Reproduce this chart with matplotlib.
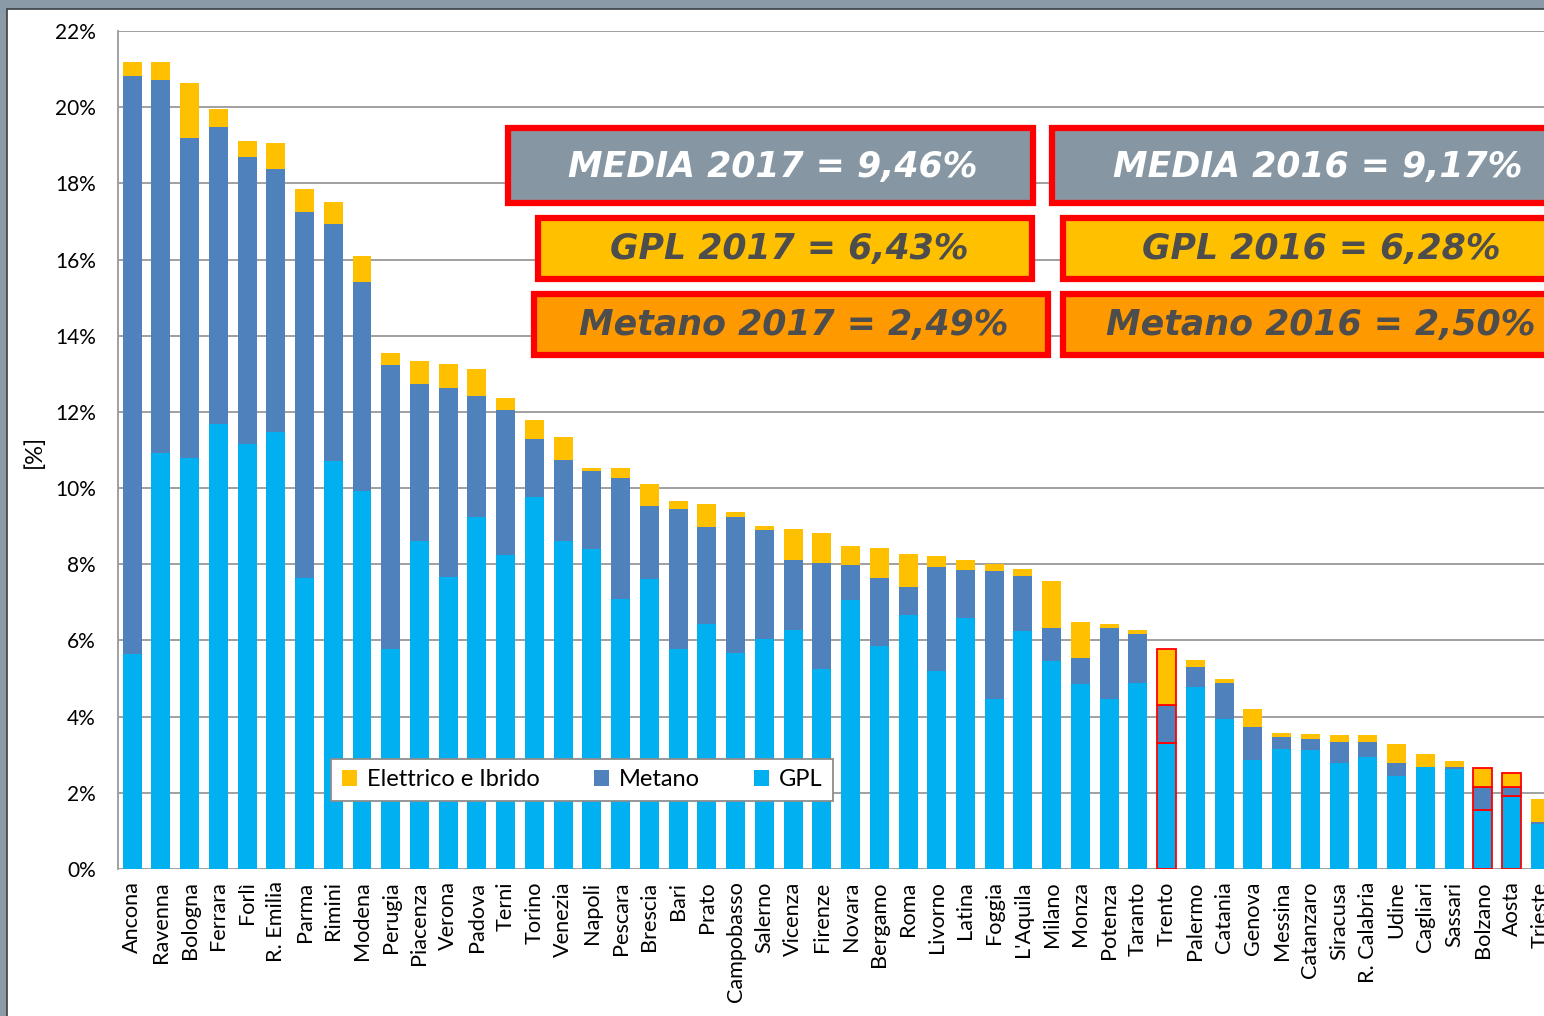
import matplotlib
matplotlib.use("Agg")
import matplotlib.pyplot as plt
from matplotlib.patches import Rectangle, Patch
import numpy as np

cities = ["Ancona", "Ravenna", "Bologna", "Ferrara", "Forlì", "R. Emilia", "Parma", "Rimini",
          "Modena", "Perugia", "Piacenza", "Verona", "Padova", "Terni", "Torino", "Venezia",
          "Napoli", "Pescara", "Brescia", "Bari", "Prato", "Campobasso", "Salerno", "Vicenza",
          "Firenze", "Novara", "Bergamo", "Roma", "Livorno", "Latina", "Foggia", "L'Aquila",
          "Milano", "Monza", "Potenza", "Taranto", "Trento", "Palermo", "Catania", "Genova",
          "Messina", "Catanzaro", "Siracusa", "R. Calabria", "Udine", "Cagliari", "Sassari",
          "Bolzano", "Aosta", "Trieste"]

# GPL share (%)
gpl = [5.64, 10.93, 10.79, 11.68, 11.15, 11.47, 7.63, 10.72, 9.92, 5.78,
       8.61, 7.66, 9.24, 8.24, 9.76, 8.61, 8.39, 7.08, 7.61, 5.77,
       6.42, 5.68, 6.03, 6.27, 5.24, 7.06, 5.86, 6.68, 5.21, 6.59,
       4.46, 6.25, 5.46, 4.85, 4.46, 4.88, 3.31, 4.77, 3.93, 2.85,
       3.14, 3.12, 2.79, 2.93, 2.45, 2.67, 2.63, 1.56, 1.92, 1.17]
# cumulative GPL + Metano (%)
gpl_metano = [20.82, 20.71, 19.20, 19.47, 18.70, 18.39, 17.26, 16.94, 15.41, 13.23,
              12.72, 12.63, 12.43, 12.05, 11.28, 10.74, 10.45, 10.27, 9.54, 9.46,
              8.97, 9.23, 8.89, 8.11, 8.04, 7.98, 7.65, 7.40, 7.93, 7.85,
              7.82, 7.68, 6.33, 5.54, 6.34, 6.18, 4.30, 5.30, 4.88, 3.73,
              3.47, 3.41, 3.33, 3.34, 2.78, 2.69, 2.68, 2.15, 2.15, 1.23]
# total (%)
total = [21.19, 21.19, 20.63, 19.95, 19.10, 19.07, 17.85, 17.50, 16.08, 13.55,
         13.33, 13.27, 13.12, 12.37, 11.79, 11.34, 10.54, 10.52, 10.12, 9.65,
         9.58, 9.36, 9.00, 8.93, 8.81, 8.48, 8.44, 8.27, 8.23, 8.11,
         8.01, 7.87, 7.56, 6.48, 6.43, 6.27, 5.78, 5.48, 5.00, 4.19,
         3.57, 3.54, 3.53, 3.51, 3.29, 3.02, 2.84, 2.65, 2.51, 1.84]

metano = list(np.array(gpl_metano) - np.array(gpl))
elettrico = list(np.array(total) - np.array(gpl_metano))

highlight = ["Trento", "Bolzano", "Aosta"]

yticks = [0, 2, 4, 6, 8, 10, 12, 14, 16, 18, 20, 22]
ytick_labels = [f"{v}%" for v in yticks]

boxes_2017 = ["MEDIA 2017 = 9,46%", "GPL 2017 = 6,43%", "Metano 2017 = 2,49%"]
boxes_2016 = ["MEDIA 2016 = 9,17%", "GPL 2016 = 6,28%", "Metano 2016 = 2,50%"]

C_GPL = "#00B0F0"
C_MET = "#4F81BD"
C_ELE = "#FFC000"
C_GRAY = "#8697A3"
C_ORANGE = "#FF9900"
C_RED = "#FF0000"

W, H = 1544, 1016
fig = plt.figure(figsize=(W / 100, H / 100), dpi=100)
fig.patch.set_facecolor("#8A9BA7")

def fx(px):
    return px / W

def fy(py):
    return 1 - py / H

# white panel
panel = Rectangle((fx(7), fy(1030)), 1.2, fy(9) - fy(1030), transform=fig.transFigure,
                  facecolor="white", edgecolor="#3A3F44", linewidth=1.2, zorder=-5)
fig.patches.append(panel)

font = "Lato"
fs = 15

ax_left = 118
x0 = -0.49
x1 = 49.5
step = 28.74
ax_right = 132 + x1 * step
ax = fig.add_axes([fx(ax_left), fy(869), (ax_right - ax_left) / W, (869 - 31) / H])
ax.set_zorder(1)
ax.set_facecolor("none")
x = np.arange(len(cities))
bw = 0.66
edges = [C_RED if c in highlight else "none" for c in cities]
lws = [1.3 if c in highlight else 0 for c in cities]
ax.bar(x, gpl, bw, color=C_GPL, edgecolor=edges, linewidth=lws, zorder=3)
ax.bar(x, metano, bw, bottom=gpl, color=C_MET, edgecolor=edges, linewidth=lws, zorder=3)
ax.bar(x, elettrico, bw, bottom=gpl_metano, color=C_ELE, edgecolor=edges, linewidth=lws, zorder=3)

ax.set_xlim(x0, x1)
ax.set_ylim(0, 22)
ax.set_yticks(yticks)
ax.set_yticklabels(ytick_labels, fontsize=fs, family=font)
ax.set_xticks(x)
ax.set_xticklabels(cities, rotation=90, fontsize=15.6, family=font, va="top", ha="center")
ax.tick_params(axis="both", length=0)
ax.tick_params(axis="y", pad=16)
ax.tick_params(axis="x", pad=9)
ax.yaxis.grid(True, color="#A0A0A0", linewidth=1.4, zorder=0)
ax.set_axisbelow(True)
for s in ["top", "right", "bottom"]:
    ax.spines[s].set_visible(False)
ax.spines["left"].set_color("#A0A0A0")
ax.spines["left"].set_linewidth(1.4)

fig.text(fx(34), fy(451), "[%]", rotation=90, ha="center", va="center", fontsize=17, family=font)

# legend
handles = [Patch(facecolor=C_ELE, edgecolor="none"), Patch(facecolor=C_MET, edgecolor="none"),
           Patch(facecolor=C_GPL, edgecolor="none")]
leg = ax.legend(handles, ["Elettrico e Ibrido", "Metano", "GPL"], loc="center",
                bbox_to_anchor=(fx(582), fy(780)), bbox_transform=fig.transFigure,
                ncol=3, prop={"family": font, "size": 17},
                frameon=True, fancybox=False, edgecolor="#8C8C8C", framealpha=1,
                handlelength=0.65, handleheight=0.65, handletextpad=0.4, columnspacing=2.3,
                borderpad=0.45, borderaxespad=0)
leg.get_frame().set_linewidth(1.3)
leg.set_zorder(10)

# annotation boxes
def box(l, t, r, b, fc, text, tc, cx):
    rect = Rectangle((fx(l), fy(b)), fx(r) - fx(l), fy(t) - fy(b), transform=fig.transFigure,
                     facecolor=fc, edgecolor=C_RED, linewidth=4.5, zorder=5)
    fig.patches.append(rect)
    fig.text(fx(cx), fy((t + b) / 2 + 1), text, ha="center", va="center", color=tc,
             fontsize=25, fontweight="bold", fontstyle="italic", family="DejaVu Sans", zorder=6)

box(508, 128, 1033, 203, C_GRAY, boxes_2017[0], "white", 773)
box(538, 218, 1032, 279, C_ELE, boxes_2017[1], "#4D4D4D", 789)
box(534, 294, 1048, 355, C_ORANGE, boxes_2017[2], "#4D4D4D", 794)
box(1052, 128, 1570, 203, C_GRAY, boxes_2016[0], "white", 1318)
box(1063, 218, 1570, 279, C_ELE, boxes_2016[1], "#4D4D4D", 1321)
box(1063, 294, 1570, 355, C_ORANGE, boxes_2016[2], "#4D4D4D", 1321)

fig.savefig("out.png", dpi=100, facecolor=fig.get_facecolor())
